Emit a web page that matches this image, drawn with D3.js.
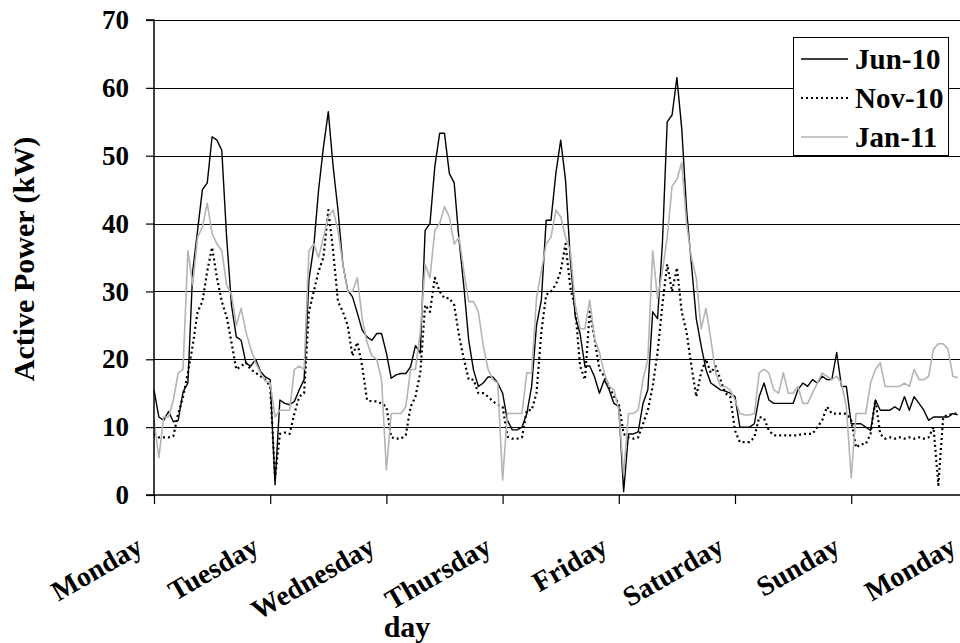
<!DOCTYPE html>
<html>
<head>
<meta charset="utf-8">
<script src="https://cdn.jsdelivr.net/npm/d3@7"></script>
<style>
  html, body { margin: 0; padding: 0; background: #fff; }
  svg { display: block; }
  text { font-family: "Liberation Serif", "Times New Roman", serif; font-weight: bold; fill: #000; }
</style>
</head>
<body>
<svg id="chart" width="960" height="643"></svg>
<script>
// ---- DATA (hourly samples starting Monday 00:00) ----
const dayLabels = ["Monday", "Tuesday", "Wednesday", "Thursday", "Friday", "Saturday", "Sunday", "Monday"];
const yTicks = [0, 10, 20, 30, 40, 50, 60, 70];
const seriesNames = ["Jun-10", "Nov-10", "Jan-11"];

const jun10 = [
  15.5, 11.5, 11, 12.3, 10.8, 11, 15.2, 16.5, 33, 39, 45, 46, 52.8, 52.3, 50.8, 38, 28, 23.3, 22.8, 19.4, 19, 20, 18.2, 17.4,
  17, 1.5, 14, 13.5, 13.3, 13.8, 15.5, 17, 31.7, 36.6, 45, 51.3, 56.5, 48.4, 42, 34, 30.2, 29.2, 26.8, 24.3, 23.3, 22.8, 23.8, 23.8,
  20.9, 17.2, 17.7, 17.9, 17.9, 18.9, 22, 20.9, 39, 40, 48.4, 53.3, 53.3, 47.4, 46, 37.6, 30.7, 22.8, 18.4, 16, 16.5, 17.4, 17.4, 16.5,
  15, 11, 9.6, 9.6, 10, 12, 16, 25, 28.7, 40.5, 40.5, 47.4, 52.3, 46.4, 34.6, 26.3, 23.8, 19, 19, 17.4, 15, 17, 15.5, 13.5,
  13, 0.5, 9, 9, 9.3, 13.5, 15.5, 27, 26, 37, 55, 56, 61.5, 54, 42, 34, 26, 22, 18.5, 16.5, 16, 15.5, 15.3, 15,
  14.5, 10, 10, 10, 10.5, 14.5, 16.5, 14, 13.5, 13.5, 13.5, 13.5, 13.5, 15.5, 16.5, 16, 17, 16.5, 17.5, 17, 17, 21, 16, 16,
  10.5, 10.5, 10.5, 10, 9.5, 14, 12.5, 12.5, 12.5, 13, 12.5, 14.5, 12.5, 14.5, 13.5, 12.5, 11, 11.5, 11.5, 11.5, 11.5, 12, 11.8
];
const nov10 = [
  9, 8.5, 8.5, 8.5, 8.7, 12, 14.5, 18, 22, 27, 28.5, 33, 36.5, 32, 28.5, 26.3, 22.5, 18.5, 19, 19.5, 18.5, 18, 17.5, 17,
  16, 2.5, 9, 9.2, 9, 12, 14.5, 15, 27, 30, 33, 35, 42, 36, 28.5, 27, 25, 20.5, 22.5, 19, 14, 13.8, 13.8, 13.5,
  13, 8.5, 8.3, 8.3, 8.8, 13, 14.5, 18, 28, 27, 32, 30, 29, 29, 28, 23.5, 20, 17, 17, 15, 15, 14.5, 13.8, 13.3,
  13, 8.6, 8.3, 8.3, 8.5, 12.5, 12.5, 15, 24, 29.5, 30, 31, 33, 37, 30.5, 27.5, 19, 17, 27, 23, 18.5, 17.5, 16, 14.5,
  13.5, 9, 8.5, 8.3, 8.5, 10.5, 12.5, 16, 21, 28, 34, 30, 33.5, 27, 24, 19, 14.5, 18, 20, 18, 19, 17, 15, 14.5,
  9.5, 7.8, 7.8, 7.8, 8.5, 11.5, 11.3, 9.5, 8.8, 8.8, 8.8, 8.8, 8.8, 8.8, 9, 9, 9, 10, 11, 13, 12, 12, 12, 12,
  11, 7, 7.5, 7.5, 9, 14, 9, 8.3, 8.5, 8.3, 8.5, 8.3, 8.5, 8.3, 8.5, 8.3, 8.5, 10, 1.5, 11.5, 11.8, 12, 12
];
const jan11 = [
  11, 5.5, 11.5, 11.5, 14, 18, 18.5, 36, 31, 38, 39.5, 43, 38.5, 37, 36, 31, 29.5, 25, 27.5, 24, 21.5, 19.5, 18, 16.8,
  16.5, 11.5, 12.5, 12.5, 12.5, 18.5, 19, 18.5, 36, 37, 35, 38, 41, 42, 39, 34, 30, 30, 32, 26, 22.5, 20.5, 20, 17,
  3.7, 12, 12, 12, 13, 18.5, 18.5, 24, 34, 32, 39, 40, 42.5, 41, 37, 38, 33, 28.5, 28.5, 27, 22, 18.5, 17, 16.5,
  2.2, 12, 12, 12, 12, 18, 18, 29, 33, 37, 38, 42, 41, 38, 36, 28, 24.5, 24.5, 28.7, 23, 21, 18, 16, 15.5,
  12.5, 3, 12, 12, 12.5, 17, 20, 36, 29, 33, 38, 45.5, 46.5, 49, 40, 35, 32, 24.5, 27.5, 23, 18, 16, 16, 15.5,
  14, 12, 11.8, 11.8, 12, 18, 18.5, 18, 15.5, 15, 18, 15, 15, 16, 13.5, 13.5, 15, 16.5, 18, 17.5, 17, 17.5, 16.5, 13,
  2.5, 12, 12, 12, 16.5, 18.5, 19.5, 16, 16, 16, 16, 16.5, 16, 18.5, 17, 17, 17.5, 21.5, 22.3, 22.3, 21.5, 17.5, 17.3
];

// ---- LAYOUT ----
const svg = d3.select("#chart");
const plotLeft = 154, plotTop = 20, plotBottom = 495;
const dayPx = 116.2;
const plotRight = plotLeft + 7 * dayPx;

const x = d3.scaleLinear().domain([0, 168]).range([plotLeft, plotRight]);
const y = d3.scaleLinear().domain([0, 70]).range([plotBottom, plotTop]);

// gridlines
svg.append("g").selectAll("line")
  .data(yTicks.filter(v => v > 0))
  .join("line")
  .attr("x1", plotLeft).attr("x2", plotRight)
  .attr("y1", d => Math.round(y(d)) + 0.5).attr("y2", d => Math.round(y(d)) + 0.5)
  .attr("stroke", "#000").attr("stroke-width", 1);

// series
const line = d3.line().x((d, i) => x(i)).y(d => y(d));
const series = [
  { name: seriesNames[0], values: jun10, color: "#000", width: 1.4, dash: null },
  { name: seriesNames[1], values: nov10, color: "#000", width: 2.2, dash: "2,3" },
  { name: seriesNames[2], values: jan11, color: "#b4b4b4", width: 1.6, dash: null }
];
series.forEach(s => {
  svg.append("path")
    .attr("d", line(s.values))
    .attr("fill", "none")
    .attr("stroke", s.color)
    .attr("stroke-width", s.width)
    .attr("stroke-linejoin", "round")
    .attr("stroke-dasharray", s.dash);
});

// y axis
const yAxis = d3.axisLeft(y).tickValues(yTicks).tickSize(8).tickPadding(17).tickFormat(d3.format("d"));
const gy = svg.append("g").attr("transform", `translate(${plotLeft},0)`).call(yAxis);
gy.select(".domain").attr("stroke", "#000").attr("stroke-width", 1.5).attr("d", `M-8,${plotTop}H0V${plotBottom}H-8`);
gy.selectAll(".tick line").attr("stroke", "#000").attr("stroke-width", 1.2);
gy.selectAll(".tick text").attr("font-size", 27).attr("font-family", "Liberation Serif").attr("font-weight", "bold").attr("fill", "#000");

// x axis
const xAxis = d3.axisBottom(x).tickValues(d3.range(0, 169, 24)).tickSize(9).tickFormat((d, i) => dayLabels[i]);
const gx = svg.append("g").attr("transform", `translate(0,${plotBottom})`).call(xAxis);
gx.select(".domain").attr("stroke", "#000").attr("stroke-width", 1.5).attr("d", `M${plotLeft},0H${plotRight}`);
gx.selectAll(".tick line").attr("stroke", "#000").attr("stroke-width", 1.2);
gx.selectAll(".tick text")
  .attr("font-size", 28).attr("font-family", "Liberation Serif").attr("font-weight", "bold").attr("fill", "#000")
  .attr("text-anchor", "end")
  .attr("dy", 0)
  .attr("transform", "translate(-10,57) rotate(-30)")
  .attr("y", 0).attr("x", 0);

// axis titles
svg.append("text")
  .attr("transform", `translate(34,259) rotate(-90)`)
  .attr("text-anchor", "middle")
  .attr("font-size", 30)
  .text("Active Power (kW)");
svg.append("text")
  .attr("x", 407).attr("y", 637)
  .attr("text-anchor", "middle")
  .attr("font-size", 30)
  .text("day");

// legend
const lg = svg.append("g");
lg.append("rect").attr("x", 793.5).attr("y", 37.5).attr("width", 155).attr("height", 118)
  .attr("fill", "#fff").attr("stroke", "#000").attr("stroke-width", 1);
series.forEach((s, i) => {
  const ly = 59 + i * 39;
  lg.append("line").attr("x1", 801).attr("x2", 848).attr("y1", ly).attr("y2", ly)
    .attr("stroke", s.color).attr("stroke-width", s.width).attr("stroke-dasharray", s.dash);
  lg.append("text").attr("x", 855).attr("y", ly + 10).attr("font-size", 29).text(s.name);
});
</script>
</body>
</html>
